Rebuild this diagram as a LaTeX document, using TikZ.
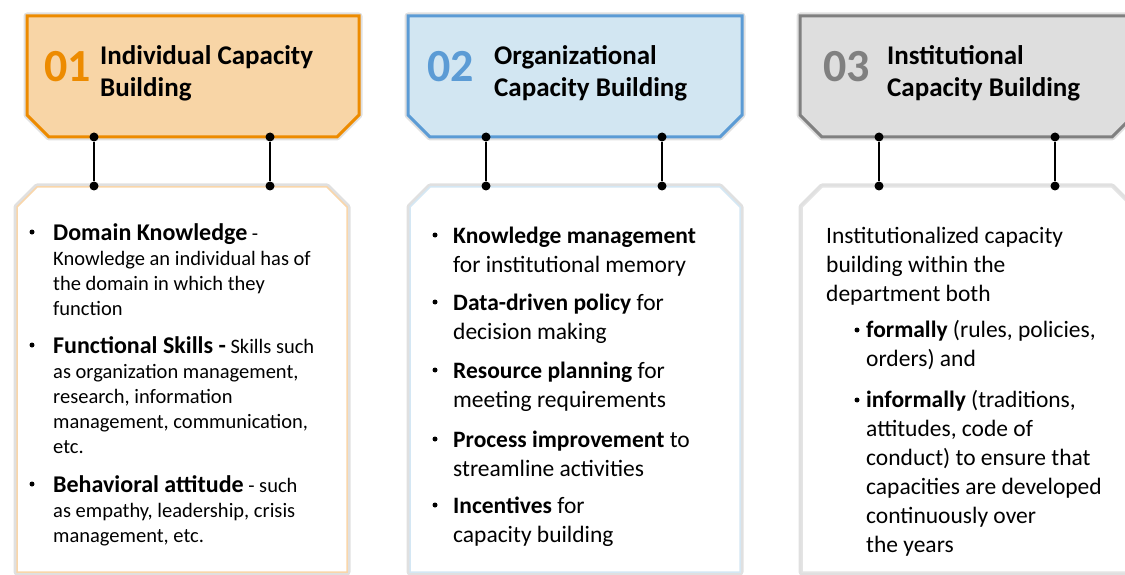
\documentclass[tikz,border=0pt]{standalone}
\usepackage{fontspec}
\setmainfont{Carlito}
\usetikzlibrary{positioning}
\definecolor{indline}{HTML}{ED8B00}
\definecolor{indfill}{HTML}{F8D5A6}
\definecolor{indsoft}{HTML}{F9D6AA}
\definecolor{orgline}{HTML}{5B9BD5}
\definecolor{orgfill}{HTML}{D2E6F2}
\definecolor{orgsoft}{HTML}{D4E7F4}
\definecolor{insline}{HTML}{808080}
\definecolor{insfill}{HTML}{DEDEDE}
\definecolor{inssoft}{HTML}{E4E4E4}
\tikzstyle{head}=[
	line width=3,
	line join=miter]
\tikzstyle{panel}=[
	line width=1.5,
	fill=white]
\tikzstyle{glow}=[
	draw=black!12,
	line width=7,
	line join=round]
\tikzstyle{num}=[
	anchor=base west,
	inner sep=0,
	font=\fontsize{46}{46}\selectfont\bfseries]
\tikzstyle{title}=[
	anchor=base west,
	inner sep=0,
	align=left,
	font=\fontsize{27}{32}\selectfont\bfseries]
\tikzstyle{pin}=[
	circle,
	fill=black,
	inner sep=0,
	minimum size=9]
\tikzstyle{bul}=[
	circle,
	fill=black,
	inner sep=0,
	minimum size=5]
\tikzstyle{small}=[
	anchor=base west,
	inner sep=0,
	align=left,
	font=\fontsize{20.5}{25}\selectfont]
\tikzstyle{large}=[
	anchor=base west,
	inner sep=0,
	align=left,
	font=\fontsize{23.5}{29}\selectfont]
\newcommand{\kw}[1]{{\fontsize{24}{25}\selectfont\bfseries #1}}

\begin{document}
\begin{tikzpicture}[x=1pt,y=-1pt]
	\path[use as bounding box,clip] (0,0) rectangle (1125,575);
	% headers
	\draw[glow] (27,16) -- (359,16) -- (359,115) -- (337,137) -- (49,137) -- (27,115) -- cycle;
	\draw[head,draw=indline,fill=indfill] (27,16) -- (359,16) -- (359,115) -- (337,137) -- (49,137) -- (27,115) -- cycle;
	\draw[glow] (408,16) -- (742,16) -- (742,115) -- (720,137) -- (430,137) -- (408,115) -- cycle;
	\draw[head,draw=orgline,fill=orgfill] (408,16) -- (742,16) -- (742,115) -- (720,137) -- (430,137) -- (408,115) -- cycle;
	\draw[glow] (800,16) -- (1134,16) -- (1134,115) -- (1112,137) -- (822,137) -- (800,115) -- cycle;
	\draw[head,draw=insline,fill=insfill] (800,16) -- (1134,16) -- (1134,115) -- (1112,137) -- (822,137) -- (800,115) -- cycle;
	% (multi-line nodes sit on their last baseline)
	\node[num,text=indline]	(n1)	at (44,82)	{01};
	\node[title]	(t1)	at (100,97)	{Individual Capacity\\Building};
	\node[num,text=orgline]	(n2)	at (427,82)	{02};
	\node[title]	(t2)	at (494,97)	{Organizational\\Capacity Building};
	\node[num,text=insline]	(n3)	at (823,82)	{03};
	\node[title]	(t3)	at (887,97)	{Institutional\\Capacity Building};
	% panels
	\draw[glow] (17,207) -- (37,187) -- (327,187) -- (347,207) -- (347,572) -- (17,572) -- cycle;
	\draw[panel,draw=indsoft] (17,207) -- (37,187) -- (327,187) -- (347,207) -- (347,572) -- (17,572) -- cycle;
	\draw[glow] (410,207) -- (430,187) -- (720,187) -- (740,207) -- (740,572) -- (410,572) -- cycle;
	\draw[panel,draw=orgsoft] (410,207) -- (430,187) -- (720,187) -- (740,207) -- (740,572) -- (410,572) -- cycle;
	\draw[glow] (802,207) -- (822,187) -- (1112,187) -- (1132,207) -- (1132,572) -- (802,572) -- cycle;
	\draw[panel,draw=inssoft] (802,207) -- (822,187) -- (1112,187) -- (1132,207) -- (1132,572) -- (802,572) -- cycle;
	% links
	\node[pin]	(h1a)	at (94,137)	{};
	\node[pin]	(p1a)	at (94,186)	{};
	\node[pin]	(h1b)	at (270,137)	{};
	\node[pin]	(p1b)	at (270,186)	{};
	\node[pin]	(h2a)	at (486,137)	{};
	\node[pin]	(p2a)	at (486,186)	{};
	\node[pin]	(h2b)	at (662,137)	{};
	\node[pin]	(p2b)	at (662,186)	{};
	\node[pin]	(h3a)	at (879,137)	{};
	\node[pin]	(p3a)	at (879,186)	{};
	\node[pin]	(h3b)	at (1055,137)	{};
	\node[pin]	(p3b)	at (1055,186)	{};
	\draw[line width=2] (h1a) -- (p1a);
	\draw[line width=2] (h1b) -- (p1b);
	\draw[line width=2] (h2a) -- (p2a);
	\draw[line width=2] (h2b) -- (p2b);
	\draw[line width=2] (h3a) -- (p3a);
	\draw[line width=2] (h3b) -- (p3b);
	% individual
	\node[small]	(i1)	at (53,315)	{\kw{Domain Knowledge} -\\Knowledge an individual has of\\the domain in which they\\function};
	\node[small]	(i2)	at (53,453)	{\kw{Functional Skills -} Skills such\\as organization management,\\research, information\\management, communication,\\etc.};
	\node[small]	(i3)	at (53,542)	{\kw{Behavioral attitude} - such\\as empathy, leadership, crisis\\management, etc.};
	\node[bul]	(bi1)	at (32,232)	{};
	\node[bul]	(bi2)	at (32,345)	{};
	\node[bul]	(bi3)	at (32,484)	{};
	% organizational
	\node[large]	(o1)	at (453,272)	{\textbf{Knowledge management}\\for institutional memory};
	\node[large]	(o2)	at (453,339)	{\textbf{Data-driven policy} for\\decision making};
	\node[large]	(o3)	at (453,407)	{\textbf{Resource planning} for\\meeting requirements};
	\node[large]	(o4)	at (453,476)	{\textbf{Process improvement} to\\streamline activities};
	\node[large]	(o5)	at (453,542)	{\textbf{Incentives} for\\capacity building};
	\node[bul]	(bo1)	at (435,235)	{};
	\node[bul]	(bo2)	at (435,302)	{};
	\node[bul]	(bo3)	at (435,370)	{};
	\node[bul]	(bo4)	at (435,439)	{};
	\node[bul]	(bo5)	at (435,505)	{};
	% institutional
	\node[large]	(s0)	at (826,301)	{Institutionalized capacity\\building within the\\department both};
	\node[large]	(s1)	at (866,366)	{\textbf{formally} (rules, policies,\\orders) and};
	\node[large]	(s2)	at (866,552)	{\textbf{informally} (traditions,\\attitudes, code of\\conduct) to ensure that\\capacities are developed\\continuously over\\the years};
	\node[bul]	(bs1)	at (857,330)	{};
	\node[bul]	(bs2)	at (857,400)	{};
\end{tikzpicture}
\end{document}
